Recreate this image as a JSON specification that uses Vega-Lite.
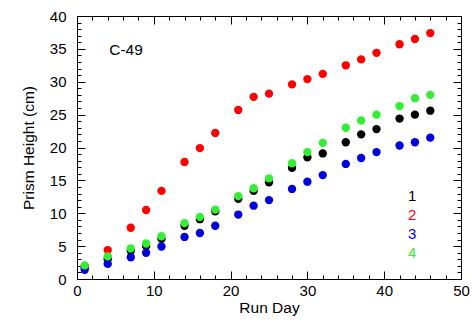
{
  "$schema": "https://vega.github.io/schema/vega-lite/v6.json",
  "width": 384,
  "height": 263,
  "autosize": "none",
  "padding": {"left": 77, "top": 16, "right": 11, "bottom": 45},
  "background": "white",
  "config": {
    "view": {"stroke": null},
    "font": "Liberation Sans",
    "axis": {"domainColor": "black", "tickColor": "black", "labelColor": "black", "titleColor": "black", "grid": false, "labelFont": "Liberation Sans", "titleFont": "Liberation Sans", "labelFontSize": 15, "titleFontSize": 15.5, "titleFontWeight": "normal", "domainWidth": 1, "tickWidth": 1}
  },
  "datasets": {
    "pts": [
      {"day": 1, "height": 1.8, "series": "1"},
      {"day": 4, "height": 3.0, "series": "1"},
      {"day": 7, "height": 4.3, "series": "1"},
      {"day": 9, "height": 5.0, "series": "1"},
      {"day": 11, "height": 6.1, "series": "1"},
      {"day": 14, "height": 8.1, "series": "1"},
      {"day": 16, "height": 9.1, "series": "1"},
      {"day": 18, "height": 10.3, "series": "1"},
      {"day": 21, "height": 12.2, "series": "1"},
      {"day": 23, "height": 13.4, "series": "1"},
      {"day": 25, "height": 14.7, "series": "1"},
      {"day": 28, "height": 16.9, "series": "1"},
      {"day": 30, "height": 18.5, "series": "1"},
      {"day": 32, "height": 19.1, "series": "1"},
      {"day": 35, "height": 20.8, "series": "1"},
      {"day": 37, "height": 22.0, "series": "1"},
      {"day": 39, "height": 22.8, "series": "1"},
      {"day": 42, "height": 24.4, "series": "1"},
      {"day": 44, "height": 25.0, "series": "1"},
      {"day": 46, "height": 25.6, "series": "1"},
      {"day": 1, "height": 1.9, "series": "2"},
      {"day": 4, "height": 4.4, "series": "2"},
      {"day": 7, "height": 7.8, "series": "2"},
      {"day": 9, "height": 10.5, "series": "2"},
      {"day": 11, "height": 13.4, "series": "2"},
      {"day": 14, "height": 17.8, "series": "2"},
      {"day": 16, "height": 19.9, "series": "2"},
      {"day": 18, "height": 22.2, "series": "2"},
      {"day": 21, "height": 25.7, "series": "2"},
      {"day": 23, "height": 27.7, "series": "2"},
      {"day": 25, "height": 28.2, "series": "2"},
      {"day": 28, "height": 29.6, "series": "2"},
      {"day": 30, "height": 30.4, "series": "2"},
      {"day": 32, "height": 31.2, "series": "2"},
      {"day": 35, "height": 32.5, "series": "2"},
      {"day": 37, "height": 33.4, "series": "2"},
      {"day": 39, "height": 34.4, "series": "2"},
      {"day": 42, "height": 35.7, "series": "2"},
      {"day": 44, "height": 36.5, "series": "2"},
      {"day": 46, "height": 37.4, "series": "2"},
      {"day": 1, "height": 1.4, "series": "3"},
      {"day": 4, "height": 2.3, "series": "3"},
      {"day": 7, "height": 3.3, "series": "3"},
      {"day": 9, "height": 4.0, "series": "3"},
      {"day": 11, "height": 4.95, "series": "3"},
      {"day": 14, "height": 6.4, "series": "3"},
      {"day": 16, "height": 7.0, "series": "3"},
      {"day": 18, "height": 8.1, "series": "3"},
      {"day": 21, "height": 9.8, "series": "3"},
      {"day": 23, "height": 11.15, "series": "3"},
      {"day": 25, "height": 12.0, "series": "3"},
      {"day": 28, "height": 13.7, "series": "3"},
      {"day": 30, "height": 14.8, "series": "3"},
      {"day": 32, "height": 15.8, "series": "3"},
      {"day": 35, "height": 17.5, "series": "3"},
      {"day": 37, "height": 18.4, "series": "3"},
      {"day": 39, "height": 19.3, "series": "3"},
      {"day": 42, "height": 20.3, "series": "3"},
      {"day": 44, "height": 20.8, "series": "3"},
      {"day": 46, "height": 21.5, "series": "3"},
      {"day": 1, "height": 2.07, "series": "4"},
      {"day": 4, "height": 3.45, "series": "4"},
      {"day": 7, "height": 4.65, "series": "4"},
      {"day": 9, "height": 5.4, "series": "4"},
      {"day": 11, "height": 6.5, "series": "4"},
      {"day": 14, "height": 8.5, "series": "4"},
      {"day": 16, "height": 9.45, "series": "4"},
      {"day": 18, "height": 10.55, "series": "4"},
      {"day": 21, "height": 12.6, "series": "4"},
      {"day": 23, "height": 13.8, "series": "4"},
      {"day": 25, "height": 15.3, "series": "4"},
      {"day": 28, "height": 17.6, "series": "4"},
      {"day": 30, "height": 19.3, "series": "4"},
      {"day": 32, "height": 20.7, "series": "4"},
      {"day": 35, "height": 23.0, "series": "4"},
      {"day": 37, "height": 24.1, "series": "4"},
      {"day": 39, "height": 25.0, "series": "4"},
      {"day": 42, "height": 26.3, "series": "4"},
      {"day": 44, "height": 27.5, "series": "4"},
      {"day": 46, "height": 28.0, "series": "4"}
    ],
    "note": [{"day": 4.2, "height": 34.8, "label": "C-49"}]
  },
  "layer": [
    {
      "data": {"name": "pts"},
      "mark": {"type": "point", "filled": true, "opacity": 1, "size": 70, "strokeWidth": 0},
      "encoding": {
        "x": {
          "field": "day", "type": "quantitative",
          "scale": {"domain": [0, 50], "nice": false, "zero": false},
          "axis": {
            "orient": "bottom", "title": "Run Day", "titlePadding": -2,
            "values": [0, 2, 4, 6, 8, 10, 12, 14, 16, 18, 20, 22, 24, 26, 28, 30, 32, 34, 36, 38, 40, 42, 44, 46, 48, 50],
            "labelExpr": "datum.value % 10 === 0 ? datum.label : ''",
            "tickSize": {"condition": {"test": "datum.value % 10 === 0", "value": -8}, "value": -4},
            "labelPadding": 12.5, "labelFlush": false, "labelOverlap": false
          }
        },
        "y": {
          "field": "height", "type": "quantitative",
          "scale": {"domain": [0, 40], "nice": false, "zero": false},
          "axis": {
            "orient": "left", "title": "Prism Height (cm)", "titlePadding": 13,
            "values": [0, 1, 2, 3, 4, 5, 6, 7, 8, 9, 10, 11, 12, 13, 14, 15, 16, 17, 18, 19, 20, 21, 22, 23, 24, 25, 26, 27, 28, 29, 30, 31, 32, 33, 34, 35, 36, 37, 38, 39, 40],
            "labelExpr": "datum.value % 5 === 0 ? datum.label : ''",
            "tickSize": {"condition": {"test": "datum.value % 5 === 0", "value": -8}, "value": -4},
            "labelPadding": 19, "labelFlush": false, "labelOverlap": false
          }
        },
        "color": {
          "field": "series", "type": "nominal",
          "scale": {"domain": ["1", "2", "3", "4"], "range": ["#000000", "#ff0000", "#0000dd", "#33ee33"]},
          "legend": {
            "orient": "none", "legendX": 316, "legendY": 172, "title": null,
            "symbolSize": 0, "symbolOpacity": 0, "symbolStrokeWidth": 0, "labelOffset": 0,
            "labelFont": "Liberation Sans", "labelFontSize": 15, "rowPadding": 3, "padding": 0,
            "labelColor": {"expr": "scale('color', datum.value)"}
          }
        }
      }
    },
    {
      "data": {"name": "note"},
      "mark": {"type": "text", "align": "left", "baseline": "middle", "fontSize": 15.5, "font": "Liberation Sans", "color": "black"},
      "encoding": {
        "text": {"field": "label"},
        "x": {
          "field": "day", "type": "quantitative",
          "axis": {
            "orient": "top", "title": null, "labels": false,
            "values": [0, 2, 4, 6, 8, 10, 12, 14, 16, 18, 20, 22, 24, 26, 28, 30, 32, 34, 36, 38, 40, 42, 44, 46, 48, 50],
            "tickSize": {"condition": {"test": "datum.value % 10 === 0", "value": -8}, "value": -4}
          }
        },
        "y": {
          "field": "height", "type": "quantitative",
          "axis": {
            "orient": "right", "title": null, "labels": false,
            "values": [0, 1, 2, 3, 4, 5, 6, 7, 8, 9, 10, 11, 12, 13, 14, 15, 16, 17, 18, 19, 20, 21, 22, 23, 24, 25, 26, 27, 28, 29, 30, 31, 32, 33, 34, 35, 36, 37, 38, 39, 40],
            "tickSize": {"condition": {"test": "datum.value % 5 === 0", "value": -8}, "value": -4}
          }
        }
      }
    }
  ],
  "resolve": {"axis": {"x": "independent", "y": "independent"}}
}
